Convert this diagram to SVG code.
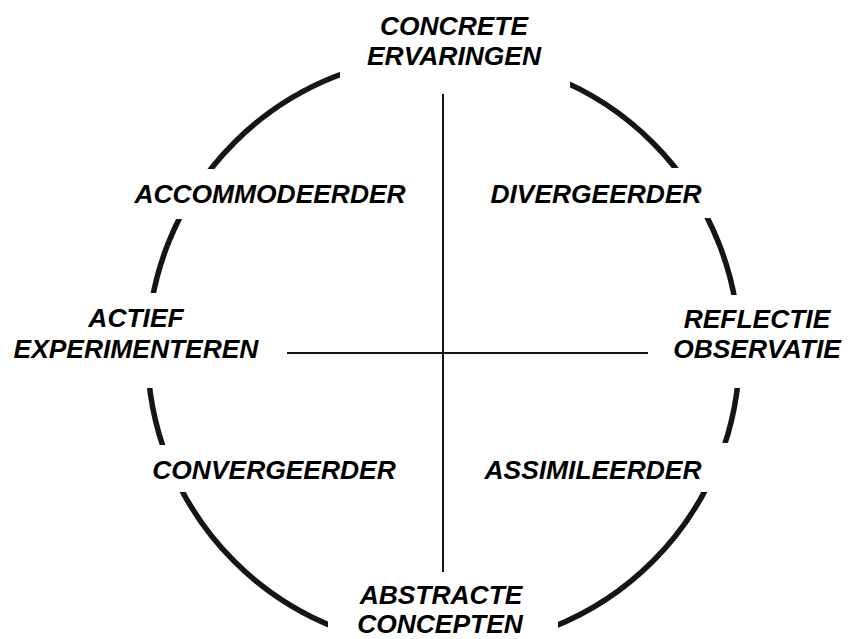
<svg xmlns="http://www.w3.org/2000/svg" width="853" height="639" viewBox="0 0 853 639">
  <style>
    .lbl { font-family: "Liberation Sans", Arial, sans-serif; font-weight: bold; font-style: italic; font-size: 26.4px; fill: #000; text-anchor: middle; }
    .mask { fill: #fff; stroke: none; }
    .ring { fill: none; stroke: #151515; stroke-width: 5.5; }
    .axis { stroke: #151515; stroke-width: 2; fill: none; }
  </style>
  <rect x="0" y="0" width="853" height="639" fill="#fff"/>
  <g id="cycle">
    <circle class="ring" cx="443.5" cy="352" r="296"/>
  </g>
  <g id="connectors">
    <line class="axis" x1="443" y1="94" x2="443" y2="572"/>
    <line class="axis" x1="287" y1="353" x2="648" y2="353"/>
  </g>
  <g id="concrete-ervaringen">
    <rect class="mask" x="340" y="0" width="230" height="90"/>
    <text class="lbl" x="454" y="35">CONCRETE</text>
    <text class="lbl" x="454" y="65">ERVARINGEN</text>
  </g>
  <g id="abstracte-concepten">
    <rect class="mask" x="328" y="582" width="230" height="57"/>
    <text class="lbl" x="441" y="604">ABSTRACTE</text>
    <text class="lbl" x="440" y="633">CONCEPTEN</text>
  </g>
  <g id="actief-experimenteren">
    <rect class="mask" x="0" y="293" width="275" height="95"/>
    <text class="lbl" x="136" y="327">ACTIEF</text>
    <text class="lbl" x="136" y="358">EXPERIMENTEREN</text>
  </g>
  <g id="reflectie-observatie">
    <rect class="mask" x="660" y="295" width="193" height="93"/>
    <text class="lbl" x="757" y="328">REFLECTIE</text>
    <text class="lbl" x="757" y="358">OBSERVATIE</text>
  </g>
  <g id="accommodeerder">
    <rect class="mask" x="125" y="169" width="290" height="50"/>
    <text class="lbl" x="270" y="203">ACCOMMODEERDER</text>
  </g>
  <g id="divergeerder">
    <rect class="mask" x="485" y="168" width="235" height="50"/>
    <text class="lbl" x="596" y="203">DIVERGEERDER</text>
  </g>
  <g id="convergeerder">
    <rect class="mask" x="140" y="445" width="270" height="47"/>
    <text class="lbl" x="274" y="479">CONVERGEERDER</text>
  </g>
  <g id="assimileerder">
    <rect class="mask" x="475" y="443" width="265" height="49"/>
    <text class="lbl" x="593" y="479">ASSIMILEERDER</text>
  </g>
</svg>
